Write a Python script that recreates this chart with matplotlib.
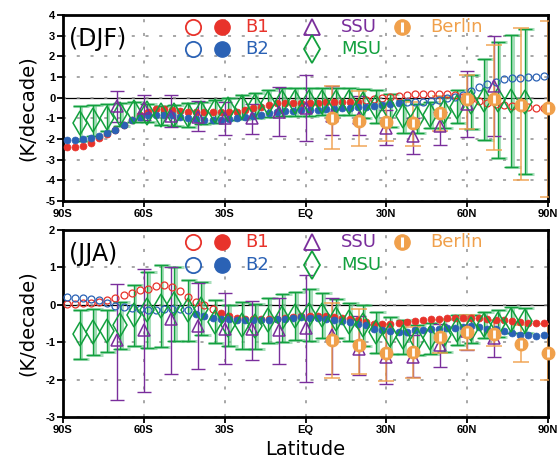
import numpy as np
import matplotlib
matplotlib.use("Agg")
import matplotlib.pyplot as plt

# ---- data (K/decade) ----

# model grid, 3 degree spacing
model_lat = np.arange(-88.5, 89.0, 3.0)

djf_b1 = [-2.40, -2.40, -2.34, -2.18, -1.95, -1.78, -1.56, -1.32, -1.08, -0.84,
          -0.68, -0.56, -0.55, -0.60, -0.63, -0.68, -0.70, -0.70, -0.68, -0.68,
          -0.68, -0.68, -0.60, -0.50, -0.43, -0.35, -0.28, -0.27, -0.27, -0.24,
          -0.24, -0.24, -0.23, -0.22, -0.21, -0.20, -0.19, -0.10, -0.05, 0.00,
          0.05, 0.10, 0.15, 0.18, 0.20, 0.20, 0.20, 0.18, 0.12, 0.05,
          -0.05, -0.18, -0.28, -0.33, -0.36, -0.40, -0.42, -0.45, -0.48, -0.48]
djf_b2 = [-2.05, -2.05, -2.00, -1.97, -1.85, -1.72, -1.56, -1.32, -1.10, -0.92,
          -0.84, -0.84, -0.84, -0.86, -0.92, -1.00, -1.05, -1.08, -1.08, -1.08,
          -1.05, -1.00, -0.95, -0.88, -0.82, -0.75, -0.68, -0.65, -0.63, -0.60,
          -0.60, -0.58, -0.57, -0.53, -0.51, -0.48, -0.45, -0.43, -0.39, -0.35,
          -0.30, -0.27, -0.22, -0.20, -0.19, -0.15, -0.10, -0.02, 0.05, 0.15,
          0.30, 0.50, 0.65, 0.78, 0.88, 0.94, 0.97, 1.00, 1.02, 1.05]
jja_b1 = [0.02, 0.02, 0.04, 0.05, 0.07, 0.12, 0.17, 0.25, 0.32, 0.40,
          0.43, 0.50, 0.52, 0.48, 0.36, 0.21, 0.07, -0.01, -0.10, -0.22,
          -0.30, -0.34, -0.37, -0.38, -0.38, -0.37, -0.37, -0.35, -0.33, -0.31,
          -0.31, -0.30, -0.31, -0.33, -0.35, -0.37, -0.40, -0.45, -0.50, -0.52,
          -0.52, -0.49, -0.46, -0.43, -0.41, -0.39, -0.37, -0.36, -0.34, -0.34,
          -0.34, -0.36, -0.38, -0.40, -0.41, -0.43, -0.46, -0.49, -0.49, -0.48]
jja_b2 = [0.20, 0.19, 0.17, 0.16, 0.12, 0.05, -0.02, -0.05, -0.08, -0.12,
          -0.14, -0.14, -0.12, -0.10, -0.10, -0.14, -0.24, -0.30, -0.34, -0.37,
          -0.38, -0.40, -0.41, -0.41, -0.41, -0.40, -0.39, -0.37, -0.35, -0.33,
          -0.34, -0.36, -0.38, -0.41, -0.43, -0.46, -0.50, -0.55, -0.64, -0.68,
          -0.70, -0.73, -0.72, -0.68, -0.68, -0.66, -0.64, -0.63, -0.61, -0.59,
          -0.57, -0.60, -0.64, -0.66, -0.70, -0.75, -0.80, -0.82, -0.83, -0.82]

# latitude ranges where model trends are drawn as filled circles
djf_b1_fill = (-90, 20)
djf_b2_fill = (-90, 35)
jja_b1_fill = (-33, 90)
jja_b2_fill = (-42, 90)

# SSU
ssu_lat = [-70, -60, -50, -40, -30, -20, -10, 0, 10, 20, 30, 40, 50, 60, 70]
djf_ssu = [-0.40, -0.50, -0.90, -0.95, -1.00, -1.00, -0.70, -0.50, -0.90, -1.00,
           -1.45, -1.85, -1.37, -0.30, 0.57]
djf_ssu_hi = [0.30, 0.15, 0.15, -0.15, -0.20, -0.30, 0.50, 1.10, 0.55, 0.10,
              -0.60, -1.00, -0.68, 1.30, 3.00]
djf_ssu_lo = [-1.20, -1.10, -1.40, -1.60, -1.80, -1.75, -1.85, -2.08, -1.80, -1.80,
              -2.30, -2.72, -2.29, -1.92, -1.85]
jja_ssu = [-0.95, -0.68, -0.39, -0.57, -0.64, -0.64, -0.68, -0.61, -0.80, -1.19,
           -1.40, -1.40, -1.08, -0.70, -0.90]
jja_ssu_hi = [0.57, 0.97, 1.01, 0.58, 0.32, 0.10, 0.19, 0.79, 0.17, -0.30,
              -0.70, -0.80, -0.50, -0.28, -0.40]
jja_ssu_lo = [-2.55, -2.33, -1.84, -1.73, -1.59, -1.47, -1.59, -2.06, -1.84, -1.89,
              -2.13, -1.93, -1.66, -1.22, -1.40]

# MSU
msu_lat = [-83.75, -78.75, -73.75, -68.75, -63.75, -58.75, -53.75, -48.75, -43.75,
           -38.75, -33.75, -28.75, -23.75, -18.75, -13.75, -8.75, -3.75, 1.25,
           6.25, 11.25, 16.25, 21.25, 26.25, 31.25, 36.25, 41.25, 46.25, 51.25,
           56.25, 61.25, 66.25, 71.25, 76.25, 81.25]
djf_msu = [-1.25, -1.10, -0.97, -0.80, -0.70, -0.75, -0.85, -0.85, -0.84, -0.75,
           -0.65, -0.55, -0.45, -0.38, -0.27, -0.20, -0.20, -0.19, -0.19, -0.19,
           -0.20, -0.30, -0.45, -0.60, -0.90, -1.00, -0.84, -0.70, -0.43, -0.20,
           -0.10, -0.10, -0.18, -0.20]
djf_msu_err = [0.85, 0.75, 0.65, 0.55, 0.50, 0.45, 0.45, 0.50, 0.60, 0.52,
               0.56, 0.52, 0.57, 0.60, 0.65, 0.68, 0.68, 0.68, 0.65, 0.65,
               0.65, 0.70, 0.80, 0.80, 0.80, 0.70, 0.65, 0.75, 0.80, 1.30,
               1.95, 2.80, 3.20, 3.50]
jja_msu = [-0.79, -0.72, -0.70, -0.55, -0.28, -0.14, -0.03, 0.02, -0.15, -0.10,
           -0.45, -0.55, -0.55, -0.57, -0.41, -0.35, -0.30, -0.28, -0.28, -0.37,
           -0.46, -0.55, -0.73, -0.82, -0.86, -0.95, -0.90, -0.82, -0.68, -0.64,
           -0.55, -0.50, -0.40, -0.42]
jja_msu_err = [0.66, 0.62, 0.57, 0.62, 0.82, 1.02, 1.10, 1.00, 0.82, 0.70,
               0.57, 0.55, 0.62, 0.60, 0.60, 0.65, 0.65, 0.70, 0.60, 0.52,
               0.50, 0.55, 0.55, 0.50, 0.45, 0.40, 0.42, 0.45, 0.40, 0.38,
               0.35, 0.35, 0.35, 0.33]

# Berlin
ber_lat = [10, 20, 30, 40, 50, 60, 70, 80, 90]
djf_ber = [-1.00, -1.15, -1.20, -1.25, -0.75, -0.05, -0.05, -0.35, -0.50]
djf_ber_hi = [0.55, 0.30, -0.30, -0.20, 0.10, 1.10, 2.55, 3.35, 3.70]
djf_ber_lo = [-2.50, -2.35, -2.10, -2.35, -1.60, -1.50, -2.55, -4.00, -4.80]
jja_ber = [-0.95, -1.08, -1.30, -1.25, -0.86, -0.73, -0.77, -1.04, -1.28]
jja_ber_hi = [0.05, -0.10, -0.50, -0.60, -0.40, -0.28, -0.40, -0.55, -0.50]
jja_ber_lo = [-1.95, -1.85, -2.05, -1.95, -1.30, -1.20, -1.10, -1.53, -2.02]

lat_ticks = [-90, -60, -30, 0, 30, 60, 90]
lat_labels = ['90S', '60S', '30S', 'EQ', '30N', '60N', '90N']

RED = '#e8332b'
BLUE = '#2b62b5'
PURPLE = '#7a2e9c'
GREEN = '#12a03e'
LGREEN = '#6cc98c'
ORANGE = '#f0a04b'

TICKFONT = dict(family='Liberation Sans', weight='bold', size=8)


def asym(c, hi, lo):
    c = np.asarray(c)
    return [c - np.asarray(lo), np.asarray(hi) - c]


def draw_panel(ax, b1, b2, b1_fill, b2_fill, ssu, ssu_hi, ssu_lo,
               msu, msu_err, ber, ber_hi, ber_lo, yticks, label):
    ax.axhline(0, color='k', lw=0.9, zorder=1)

    # MSU error bars: light wide bar under thin dark one
    ax.errorbar(np.asarray(msu_lat) + 0.6, msu, yerr=msu_err, fmt='none',
                ecolor=LGREEN, elinewidth=2.2, capsize=6, capthick=2.2,
                alpha=0.6, zorder=2)
    ax.errorbar(msu_lat, msu, yerr=msu_err, fmt='none', ecolor=GREEN,
                elinewidth=1.0, capsize=5, capthick=1.0, zorder=3)
    ax.errorbar(ssu_lat, ssu, yerr=asym(ssu, ssu_hi, ssu_lo), fmt='none',
                ecolor=PURPLE, elinewidth=1.0, capsize=5, capthick=1.0, zorder=3)
    ax.errorbar(ber_lat, ber, yerr=asym(ber, ber_hi, ber_lo), fmt='none',
                ecolor=ORANGE, elinewidth=1.2, capsize=6, capthick=1.2,
                alpha=0.85, zorder=3)

    # model trends
    for vals, rng, col in [(b1, b1_fill, RED), (b2, b2_fill, BLUE)]:
        vals = np.asarray(vals)
        filled = (model_lat >= rng[0]) & (model_lat <= rng[1])
        ax.plot(model_lat[~filled], vals[~filled], 'o', ms=5, mfc='none',
                mec=col, mew=0.9, ls='none', zorder=5)
        ax.plot(model_lat[filled], vals[filled], 'o', ms=5, mfc=col,
                mec=col, mew=0.5, ls='none', zorder=5)

    # observation markers
    ax.plot(msu_lat, msu, 'd', ms=12, mfc='none', mec=GREEN, mew=1.1,
            ls='none', zorder=6)
    ax.plot(ssu_lat, ssu, '^', ms=8, mfc='none', mec=PURPLE, mew=1.1,
            ls='none', zorder=6)
    ax.plot(ber_lat, ber, 'o', ms=9, mfc=ORANGE, mec=ORANGE, ls='none',
            zorder=7, clip_on=False)
    ax.plot(ber_lat, ber, '|', ms=6, mec='white', mew=2.0, ls='none',
            zorder=8, clip_on=False)

    # legend, drawn by hand
    tr = ax.transAxes
    r1, r2 = 0.935, 0.815
    ax.plot(0.268, r1, 'o', ms=11, mfc='none', mec=RED, mew=1.3, transform=tr, clip_on=False, zorder=9)
    ax.plot(0.328, r1, 'o', ms=11, mfc=RED, mec=RED, transform=tr, clip_on=False, zorder=9)
    ax.text(0.375, r1, 'B1', color=RED, fontsize=13, va='center', transform=tr)
    ax.plot(0.268, r2, 'o', ms=11, mfc='none', mec=BLUE, mew=1.3, transform=tr, clip_on=False, zorder=9)
    ax.plot(0.328, r2, 'o', ms=11, mfc=BLUE, mec=BLUE, transform=tr, clip_on=False, zorder=9)
    ax.text(0.375, r2, 'B2', color=BLUE, fontsize=13, va='center', transform=tr)
    ax.plot(0.513, r1, '^', ms=11, mfc='none', mec=PURPLE, mew=1.3, transform=tr, clip_on=False, zorder=9)
    ax.text(0.573, r1, 'SSU', color=PURPLE, fontsize=13, va='center', transform=tr)
    ax.plot(0.513, r2, 'd', ms=14, mfc='none', mec=GREEN, mew=1.3, transform=tr, clip_on=False, zorder=9)
    ax.text(0.573, r2, 'MSU', color=GREEN, fontsize=13, va='center', transform=tr)
    ax.plot(0.699, r1, 'o', ms=11, mfc=ORANGE, mec=ORANGE, transform=tr, clip_on=False, zorder=9)
    ax.plot(0.699, r1, '|', ms=7, mec='white', mew=2.2, transform=tr, clip_on=False, zorder=10)
    ax.text(0.757, r1, 'Berlin', color=ORANGE, fontsize=13, va='center', transform=tr)

    ax.text(0.012, 0.87, label, fontsize=17, va='center', ha='left',
            transform=tr, zorder=9)

    ax.set_xlim(-90, 90)
    ax.set_ylim(yticks[0], yticks[-1])
    ax.set_xticks(lat_ticks)
    ax.set_xticklabels(lat_labels, fontdict=TICKFONT)
    ax.set_yticks(yticks)
    ax.set_yticklabels([str(v) for v in yticks], fontdict=TICKFONT)
    ax.tick_params(direction='out', length=4, width=1.3, pad=1.5)
    ax.grid(True, color='#909090', linestyle=(0, (2, 7)), linewidth=1.1, zorder=0)
    for s in ax.spines.values():
        s.set_linewidth(2.0)
    ax.set_ylabel('(K/decade)', fontsize=14, labelpad=6)


fig = plt.figure(figsize=(5.57, 4.62), dpi=100)
ax1 = fig.add_axes([0.113, 0.565, 0.871, 0.4025])
ax2 = fig.add_axes([0.113, 0.0975, 0.871, 0.4045])

draw_panel(ax1, djf_b1, djf_b2, djf_b1_fill, djf_b2_fill,
           djf_ssu, djf_ssu_hi, djf_ssu_lo, djf_msu, djf_msu_err,
           djf_ber, djf_ber_hi, djf_ber_lo, list(range(-5, 5)), '(DJF)')
draw_panel(ax2, jja_b1, jja_b2, jja_b1_fill, jja_b2_fill,
           jja_ssu, jja_ssu_hi, jja_ssu_lo, jja_msu, jja_msu_err,
           jja_ber, jja_ber_hi, jja_ber_lo, list(range(-3, 3)), '(JJA)')

ax2.set_xlabel('Latitude', fontsize=14, labelpad=4)

fig.savefig('out.png', dpi=100)
